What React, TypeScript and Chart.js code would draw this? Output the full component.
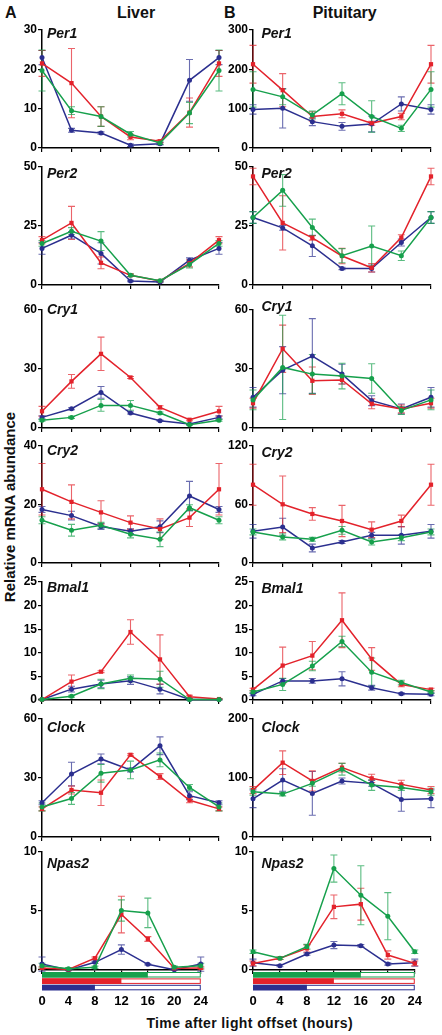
import React, { useEffect, useRef } from "react";
import { Chart, registerables } from "chart.js";

Chart.register(...registerables);

const FONT = '"Liberation Sans", Arial, Helvetica, sans-serif';
Chart.defaults.font.family = FONT;

// ---------- data ----------
const hours = [0, 4, 8, 12, 16, 20, 24];
const seriesNames = ["8L:16D", "12L:12D", "16L:8D"];
const seriesDarkHours = [16, 12, 8];
const seriesColors = ["#16a04c", "#e3222b", "#2b2f8f"];
const seriesErrColors = ["rgba(22,160,76,0.7)", "rgba(227,34,43,0.7)", "rgba(43,47,143,0.7)"];
const seriesShapes = ["circle", "rect", "circle"];

// Liver
const liverPer1Green = [19.7, 9.5, 8.0, 3.5, 1.3, 8.9, 19.7];
const liverPer1GreenErr = [5.2, 1.0, 2.5, 0.7, 0.4, 2.7, 5.2];
const liverPer1Red = [21.5, 16.5, 8.0, 2.8, 1.7, 9.0, 21.5];
const liverPer1RedErr = [3.3, 8.8, 2.5, 0.7, 0.4, 3.7, 3.3];
const liverPer1Blue = [23, 4.5, 3.8, 0.7, 1.1, 17.2, 23];
const liverPer1BlueErr = [1.8, 0.5, 0.3, 0.3, 0.3, 5.3, 1.8];

const liverPer2Green = [17.6, 22.8, 18.6, 4.1, 1.8, 8.7, 17.6];
const liverPer2GreenErr = [1.2, 1.5, 4, 0.5, 0.3, 1.5, 1.2];
const liverPer2Red = [19, 26.3, 9.4, 4.1, 1.7, 9.2, 19];
const liverPer2RedErr = [1.5, 7, 2.5, 0.5, 0.3, 1.5, 1.5];
const liverPer2Blue = [15.5, 21.1, 13.4, 1.7, 1.3, 10.5, 15.5];
const liverPer2BlueErr = [2.5, 1.5, 4.5, 0.3, 0.3, 1, 2.5];

const liverCry1Green = [3.9, 5.4, 11.5, 11.5, 7.6, 1.7, 3.9];
const liverCry1GreenErr = [0.5, 0.5, 3, 2.5, 0.5, 0.3, 0.5];
const liverCry1Red = [8.5, 23.7, 37.7, 25.7, 10.5, 4.2, 8.5];
const liverCry1RedErr = [2.5, 3.5, 8.5, 0.5, 0.8, 0.5, 2.5];
const liverCry1Blue = [5.4, 9.8, 18.1, 7.6, 3.7, 2.0, 5.4];
const liverCry1BlueErr = [0.8, 0.5, 3, 0.5, 0.3, 0.3, 0.8];

const liverCry2Green = [14.6, 11.2, 12.9, 9.8, 8.1, 18.9, 14.6];
const liverCry2GreenErr = [1.2, 2, 1, 1.2, 2.5, 1, 1.2];
const liverCry2Red = [25.2, 20.9, 17.3, 13.8, 11.6, 15.5, 25.2];
const liverCry2RedErr = [8.8, 5.8, 4, 2.3, 3.5, 3, 8.8];
const liverCry2Blue = [18.3, 16.2, 12.5, 10.9, 12.4, 22.9, 18.3];
const liverCry2BlueErr = [1, 1.5, 1, 0.8, 2, 5, 1];

const liverBmal1Green = [0.1, 0.8, 3.4, 4.6, 4.4, 0.1, 0.1];
const liverBmal1GreenErr = [0.1, 0.2, 1, 0.7, 1.7, 0.1, 0.1];
const liverBmal1Red = [0.1, 3.9, 6.0, 14.4, 8.6, 0.7, 0.2];
const liverBmal1RedErr = [0.1, 1.4, 0.2, 2.6, 5.2, 0.3, 0.1];
const liverBmal1Blue = [0.1, 2.3, 3.4, 4.1, 2.3, 0.1, 0.1];
const liverBmal1BlueErr = [0.1, 0.6, 0.8, 0.8, 1, 0.1, 0.1];

const liverClockGreen = [15.3, 19.6, 32.4, 34.1, 39.2, 25.2, 15.3];
const liverClockGreenErr = [2, 3, 4.5, 4.5, 3.5, 1.5, 2];
const liverClockRed = [14.3, 23.9, 22.5, 41.8, 30.7, 18.7, 14.3];
const liverClockRedErr = [1, 2, 6.5, 0.5, 1.5, 1.3, 1];
const liverClockBlue = [17.4, 32, 39.7, 34.1, 46.4, 21, 17.4];
const liverClockBlueErr = [1, 6, 2.5, 1, 4.5, 2, 1];

const liverNpas2Green = [0.37, 0.1, 0.23, 5.04, 4.84, 0.23, 0.37];
const liverNpas2GreenErr = [0.2, 0.1, 0.1, 0.9, 1.25, 0.1, 0.2];
const liverNpas2Red = [0.17, 0.05, 1.0, 4.7, 2.63, 0.14, 0.17];
const liverNpas2RedErr = [0.1, 0.05, 0.1, 1.55, 0.2, 0.1, 0.1];
const liverNpas2Blue = [0.5, 0, 0.65, 1.73, 0.48, 0.03, 0.5];
const liverNpas2BlueErr = [0.6, 0.05, 0.1, 0.4, 0.05, 0.05, 0.6];

// Pituitary
const pitPer1Green = [149, 130, 84, 138, 80, 50, 149];
const pitPer1GreenErr = [45, 20, 10, 28, 40, 8, 45];
const pitPer1Red = [213, 147, 80, 87, 63, 80, 213];
const pitPer1RedErr = [48, 42, 12, 10, 5, 8, 48];
const pitPer1Blue = [98, 101, 67, 55, 61, 112, 98];
const pitPer1BlueErr = [12, 50, 10, 10, 20, 18, 12];

const pitPer2Green = [28.6, 40.1, 24.4, 12.4, 16.5, 12.4, 28.6];
const pitPer2GreenErr = [2.5, 6.7, 3.5, 3, 8.5, 2, 2.5];
const pitPer2Red = [46, 26.3, 20, 12.3, 7.3, 20.1, 46];
const pitPer2RedErr = [3.5, 11.5, 1, 3.3, 1.8, 1.2, 3.5];
const pitPer2Blue = [28.6, 24.2, 16.6, 7.0, 7.0, 18, 28.6];
const pitPer2BlueErr = [2.5, 1, 4.5, 0.5, 1.5, 1.5, 2.5];

const pitCry1Green = [14.3, 30.8, 27.4, 26.4, 25.2, 8.9, 14.3];
const pitCry1GreenErr = [5, 26.5, 10, 6.5, 7.5, 2, 5];
const pitCry1Red = [12.6, 40.3, 24, 24.4, 12.3, 9.7, 12.6];
const pitCry1RedErr = [2.5, 12, 7, 2, 2.5, 2, 2.5];
const pitCry1Blue = [15.6, 29.4, 36.6, 27.4, 13.9, 9.7, 15.6];
const pitCry1BlueErr = [5, 12, 19, 5, 2.5, 2.5, 5];

const pitCry2Green = [31.8, 26.7, 24.3, 33.5, 21.5, 26, 31.8];
const pitCry2GreenErr = [3, 3, 2, 4, 3, 3, 3];
const pitCry2Red = [80.3, 60.2, 50.3, 43.1, 34.2, 43.1, 80.3];
const pitCry2RedErr = [21, 29, 6.5, 16, 8, 6, 21];
const pitCry2Blue = [32.5, 36.9, 15.4, 21.5, 28.4, 28.4, 32.5];
const pitCry2BlueErr = [7, 9, 4, 1.5, 3, 9, 7];

const pitBmal1Green = [1.7, 3.3, 7.2, 12.4, 5.9, 3.7, 1.7];
const pitBmal1GreenErr = [0.3, 1.3, 1, 1.1, 3, 0.5, 0.3];
const pitBmal1Red = [2.2, 7.3, 9.4, 16.9, 8.7, 3.3, 2.2];
const pitBmal1RedErr = [0.3, 3.9, 3, 5.8, 2.4, 0.5, 0.3];
const pitBmal1Blue = [1.2, 4.05, 4.05, 4.5, 2.6, 1.3, 1.2];
const pitBmal1BlueErr = [0.3, 0.5, 0.5, 1.5, 0.5, 0.2, 0.3];

const pitClockGreen = [76.7, 72.7, 90.9, 114.8, 88, 84, 76.7];
const pitClockGreenErr = [6, 3, 5, 10, 9, 5, 6];
const pitClockRed = [79.5, 126, 95, 117.6, 99.4, 89.2, 79.5];
const pitClockRedErr = [6, 20, 17, 7.5, 7, 7, 6];
const pitClockBlue = [64.8, 96.6, 73.9, 94.9, 90.9, 63.6, 64.8];
const pitClockBlueErr = [15, 19, 37, 5, 5, 20, 15];

const pitNpas2Green = [1.55, 0.99, 1.97, 8.6, 6.34, 4.56, 1.55];
const pitNpas2GreenErr = [0.15, 0.1, 0.2, 1.15, 2.5, 2, 0.15];
const pitNpas2Red = [0.56, 0.99, 1.83, 5.35, 5.58, 1.27, 0.56];
const pitNpas2RedErr = [0.2, 0.1, 0.3, 1, 1.35, 0.35, 0.2];
const pitNpas2Blue = [0.62, 0.37, 1.35, 2.11, 2.06, 0.51, 0.62];
const pitNpas2BlueErr = [0.3, 0.1, 0.1, 0.3, 0.1, 0.1, 0.3];

// y tick labels (max, step) per panel
const liverYTicks = [[30, 10], [50, 25], [60, 30], [40, 20], [25, 5], [60, 30], [10, 5]];
const pitYTicks = [[300, 100], [50, 25], [60, 30], [120, 60], [25, 5], [200, 100], [10, 5]];
const genes = ["Per1", "Per2", "Cry1", "Cry2", "Bmal1", "Clock", "Npas2"];
const xTickLabels = [0, 4, 8, 12, 16, 20, 24];

// ---------- layout ----------
const COLS = [
  { canvasLeft: 0, canvasWidth: 228, axisWidth: 42, padRight: 9, labelDx: 5 },
  { canvasLeft: 221, canvasWidth: 221, axisWidth: 32, padRight: 11, labelDx: 8.5 },
];
const ROW_TOPS = [30, 167, 310, 446, 582, 719, 852];
const ROW_BOTTOMS = [148, 285, 428, 563, 700, 837, 970];
const LABEL_DY = [
  [-2, 1, -6, -1, 0, 3, 6],
  [-2, 1, -9, 1, 1, 3, 6],
];
const PAD_TOP = 14;

type Series = { values: number[]; errors: number[] };
type PanelDef = { col: number; row: number; gene: string; yMax: number; yStep: number; series: Series[] };

const liverSeries: Series[][] = [
  [{ values: liverPer1Green, errors: liverPer1GreenErr }, { values: liverPer1Red, errors: liverPer1RedErr }, { values: liverPer1Blue, errors: liverPer1BlueErr }],
  [{ values: liverPer2Green, errors: liverPer2GreenErr }, { values: liverPer2Red, errors: liverPer2RedErr }, { values: liverPer2Blue, errors: liverPer2BlueErr }],
  [{ values: liverCry1Green, errors: liverCry1GreenErr }, { values: liverCry1Red, errors: liverCry1RedErr }, { values: liverCry1Blue, errors: liverCry1BlueErr }],
  [{ values: liverCry2Green, errors: liverCry2GreenErr }, { values: liverCry2Red, errors: liverCry2RedErr }, { values: liverCry2Blue, errors: liverCry2BlueErr }],
  [{ values: liverBmal1Green, errors: liverBmal1GreenErr }, { values: liverBmal1Red, errors: liverBmal1RedErr }, { values: liverBmal1Blue, errors: liverBmal1BlueErr }],
  [{ values: liverClockGreen, errors: liverClockGreenErr }, { values: liverClockRed, errors: liverClockRedErr }, { values: liverClockBlue, errors: liverClockBlueErr }],
  [{ values: liverNpas2Green, errors: liverNpas2GreenErr }, { values: liverNpas2Red, errors: liverNpas2RedErr }, { values: liverNpas2Blue, errors: liverNpas2BlueErr }],
];
const pitSeries: Series[][] = [
  [{ values: pitPer1Green, errors: pitPer1GreenErr }, { values: pitPer1Red, errors: pitPer1RedErr }, { values: pitPer1Blue, errors: pitPer1BlueErr }],
  [{ values: pitPer2Green, errors: pitPer2GreenErr }, { values: pitPer2Red, errors: pitPer2RedErr }, { values: pitPer2Blue, errors: pitPer2BlueErr }],
  [{ values: pitCry1Green, errors: pitCry1GreenErr }, { values: pitCry1Red, errors: pitCry1RedErr }, { values: pitCry1Blue, errors: pitCry1BlueErr }],
  [{ values: pitCry2Green, errors: pitCry2GreenErr }, { values: pitCry2Red, errors: pitCry2RedErr }, { values: pitCry2Blue, errors: pitCry2BlueErr }],
  [{ values: pitBmal1Green, errors: pitBmal1GreenErr }, { values: pitBmal1Red, errors: pitBmal1RedErr }, { values: pitBmal1Blue, errors: pitBmal1BlueErr }],
  [{ values: pitClockGreen, errors: pitClockGreenErr }, { values: pitClockRed, errors: pitClockRedErr }, { values: pitClockBlue, errors: pitClockBlueErr }],
  [{ values: pitNpas2Green, errors: pitNpas2GreenErr }, { values: pitNpas2Red, errors: pitNpas2RedErr }, { values: pitNpas2Blue, errors: pitNpas2BlueErr }],
];

const panels: PanelDef[] = [];
genes.forEach((g, r) => {
  panels.push({ col: 0, row: r, gene: g, yMax: liverYTicks[r][0], yStep: liverYTicks[r][1], series: liverSeries[r] });
  panels.push({ col: 1, row: r, gene: g, yMax: pitYTicks[r][0], yStep: pitYTicks[r][1], series: pitSeries[r] });
});

// ---------- plugins ----------
const errorBarPlugin = {
  id: "errorBars",
  beforeDatasetsDraw(chart: any) {
    const { ctx } = chart;
    const xs = chart.scales.x;
    const ys = chart.scales.y;
    ctx.save();
    ctx.lineWidth = 1.1;
    for (let i = chart.data.datasets.length - 1; i >= 0; i--) {
      const ds: any = chart.data.datasets[i];
      ctx.strokeStyle = ds.errorColor;
      ds.data.forEach((pt: any, j: number) => {
        const e = ds.errors[j];
        const px = xs.getPixelForValue(pt.x);
        const yT = ys.getPixelForValue(pt.y + e);
        const yB = ys.getPixelForValue(pt.y - e);
        ctx.beginPath();
        ctx.moveTo(px, yT);
        ctx.lineTo(px, yB);
        ctx.moveTo(px - 3.5, yT);
        ctx.lineTo(px + 3.5, yT);
        ctx.moveTo(px - 3.5, yB);
        ctx.lineTo(px + 3.5, yB);
        ctx.stroke();
      });
    }
    ctx.restore();
  },
};

const darkBarsPlugin = {
  id: "darkBars",
  afterDraw(chart: any) {
    const { ctx, chartArea } = chart;
    const xs = chart.scales.x;
    const x0 = xs.getPixelForValue(hours[0]);
    const x1 = xs.getPixelForValue(hours[hours.length - 1]);
    ctx.save();
    seriesDarkHours.forEach((d, i) => {
      const y0 = chartArea.bottom + 2 + i * 6.4;
      const h = 5.5;
      const xd = xs.getPixelForValue(d);
      ctx.fillStyle = "#fff";
      ctx.fillRect(x0, y0, x1 - x0, h);
      ctx.strokeStyle = seriesColors[i];
      ctx.lineWidth = 1;
      ctx.strokeRect(x0 + 0.5, y0 + 0.5, x1 - x0 - 1, h - 1);
      ctx.fillStyle = seriesColors[i];
      ctx.fillRect(x0, y0, xd - x0, h);
    });
    ctx.restore();
  },
};

function makeLabelPlugin(text: string, dx: number, dy: number) {
  return {
    id: "geneLabel",
    afterDraw(chart: any) {
      const { ctx, chartArea } = chart;
      ctx.save();
      ctx.font = `italic bold 14px ${FONT}`;
      ctx.fillStyle = "#111";
      ctx.textBaseline = "alphabetic";
      ctx.textAlign = "left";
      ctx.fillText(text, chartArea.left + dx, chartArea.top + dy + 10);
      ctx.restore();
    },
  };
}

// ---------- components ----------
function Panel({ p }: { p: PanelDef }) {
  const ref = useRef<HTMLCanvasElement>(null);
  const col = COLS[p.col];
  const isBottom = p.row === ROW_TOPS.length - 1;
  const top = ROW_TOPS[p.row];
  const bottom = ROW_BOTTOMS[p.row];
  const xAxisH = isBottom ? 42 : 6;
  const padBottom = isBottom ? 0 : 4;
  const canvasTop = top - PAD_TOP;
  const canvasH = bottom - top + PAD_TOP + xAxisH + padBottom;

  useEffect(() => {
    if (!ref.current) return;
    const datasets = p.series.map((s, i) => ({
      label: seriesNames[i],
      data: hours.map((h, j) => ({ x: h, y: s.values[j] })),
      errors: s.errors,
      errorColor: seriesErrColors[i],
      borderColor: seriesColors[i],
      backgroundColor: seriesColors[i],
      borderWidth: 1.5,
      pointRadius: seriesShapes[i] === "rect" ? 3 : 2.5,
      pointStyle: seriesShapes[i],
      pointBorderWidth: 0,
      tension: 0,
      clip: false as any,
    }));
    const chart = new Chart(ref.current, {
      type: "line",
      data: { datasets: datasets as any },
      options: {
        animation: false,
        responsive: false,
        devicePixelRatio: 1,
        events: [],
        layout: { padding: { top: PAD_TOP, bottom: padBottom, left: 0, right: col.padRight } },
        plugins: { legend: { display: false }, tooltip: { enabled: false }, title: { display: false } },
        scales: {
          x: {
            type: "linear",
            min: xTickLabels[0],
            max: xTickLabels[xTickLabels.length - 1],
            afterBuildTicks: (s: any) => {
              s.ticks = xTickLabels.map((v) => ({ value: v }));
            },
            ticks: {
              display: isBottom,
              color: "#000",
              padding: 20,
              maxRotation: 0,
              autoSkip: false,
              font: { size: 13, weight: "bold", family: FONT },
            },
            grid: { drawOnChartArea: false, drawTicks: true, tickLength: 4, color: "#000", lineWidth: 1.2 },
            border: { display: true, color: "#000", width: 1.5 },
            afterFit: (s: any) => {
              s.height = xAxisH;
            },
          },
          y: {
            type: "linear",
            min: 0,
            max: p.yMax,
            ticks: {
              stepSize: p.yStep,
              color: "#000",
              padding: 1,
              font: { size: 12, weight: "bold", family: FONT },
            },
            grid: { drawOnChartArea: false, drawTicks: true, tickLength: 4, color: "#000", lineWidth: 1.2 },
            border: { display: true, color: "#000", width: 1.5 },
            afterFit: (s: any) => {
              s.width = col.axisWidth;
            },
          },
        },
      } as any,
      plugins: [
        errorBarPlugin,
        makeLabelPlugin(p.gene, col.labelDx, LABEL_DY[p.col][p.row]),
        ...(isBottom ? [darkBarsPlugin] : []),
      ] as any,
    });
    return () => chart.destroy();
  }, []);

  return (
    <canvas
      ref={ref}
      width={col.canvasWidth}
      height={canvasH}
      style={{ position: "absolute", left: col.canvasLeft, top: canvasTop, width: col.canvasWidth, height: canvasH, display: "block" }}
    />
  );
}

const textBase: React.CSSProperties = {
  position: "absolute",
  fontFamily: FONT,
  fontWeight: "bold",
  color: "#111",
  whiteSpace: "nowrap",
};

export default function App() {
  return (
    <div
      style={{
        position: "fixed",
        left: 0,
        top: 0,
        width: 442,
        height: 1035,
        background: "#fff",
        overflow: "hidden",
      }}
    >
      <div style={{ ...textBase, left: 5, top: 4.5, fontSize: 16, lineHeight: "16px" }}>A</div>
      <div style={{ ...textBase, left: 136, top: 12.5, fontSize: 16, lineHeight: "16px", transform: "translate(-50%,-50%)" }}>Liver</div>
      <div style={{ ...textBase, left: 224, top: 4.5, fontSize: 16, lineHeight: "16px" }}>B</div>
      <div style={{ ...textBase, left: 344.7, top: 12.5, fontSize: 16, lineHeight: "16px", transform: "translate(-50%,-50%)" }}>Pituitary</div>
      <div
        style={{
          ...textBase,
          left: 9,
          top: 506.5,
          fontSize: 15,
          lineHeight: "15px",
          transform: "translate(-50%,-50%) rotate(-90deg)",
        }}
      >
        Relative mRNA abundance
      </div>
      <div
        style={{
          ...textBase,
          left: 249.7,
          top: 1023,
          fontSize: 14,
          lineHeight: "14px",
          letterSpacing: "0.4px",
          transform: "translate(-50%,-50%)",
        }}
      >
        Time after light offset (hours)
      </div>
      {panels.map((p) => (
        <Panel key={`${p.col}-${p.row}`} p={p} />
      ))}
    </div>
  );
}
